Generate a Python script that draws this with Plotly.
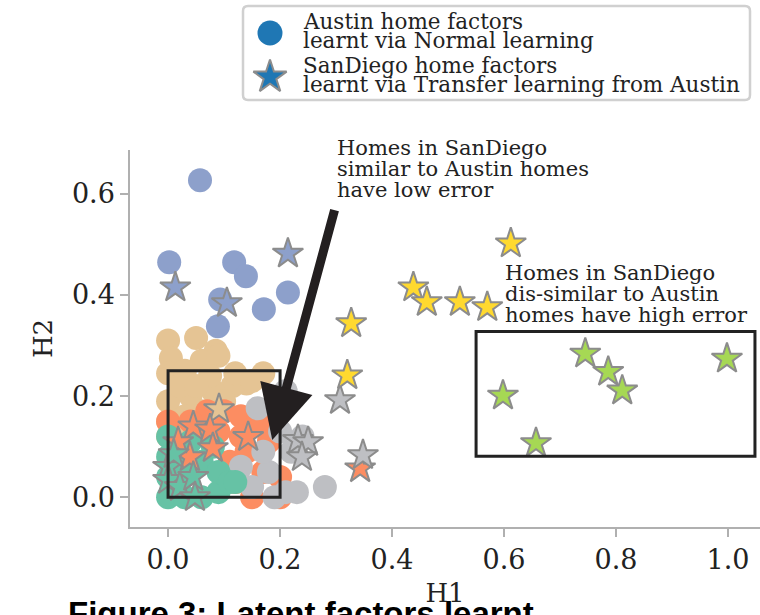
import plotly.graph_objects as go

# ---------------- data ----------------
# Austin home factors (circles), grouped by cluster colour
blue_x = [0.057, 0.002, 0.118, 0.139, 0.093, 0.214, 0.171, 0.089]
blue_y = [0.627, 0.465, 0.465, 0.437, 0.391, 0.405, 0.372, 0.338]

tan_x = [0.00, 0.05, 0.085, 0.005, 0.06, 0.00, 0.03, 0.09, 0.17, 0.14, 0.115, 0.08,
         0.00, 0.04, 0.02, 0.00, 0.03, 0.06, 0.10, 0.075, 0.05, 0.00, 0.02, 0.12, 0.15]
tan_y = [0.31, 0.315, 0.29, 0.275, 0.27, 0.245, 0.25, 0.28, 0.245, 0.225, 0.22, 0.21,
         0.19, 0.20, 0.22, 0.15, 0.16, 0.17, 0.19, 0.24, 0.22, 0.12, 0.13, 0.245, 0.23]

orange_x = [0.00, 0.07, 0.10, 0.13, 0.16, 0.19, 0.09, 0.13, 0.18, 0.12, 0.15, 0.20,
            0.17, 0.20, 0.11, 0.14, 0.06, 0.04]
orange_y = [0.15, 0.17, 0.17, 0.16, 0.15, 0.14, 0.13, 0.12, 0.11, 0.03, 0.00, 0.00,
            0.05, 0.04, 0.07, 0.09, 0.13, 0.15]

grey_x = [0.21, 0.16, 0.20, 0.18, 0.21, 0.15, 0.22, 0.19, 0.13, 0.23, 0.28, 0.17, 0.24]
grey_y = [0.21, 0.176, 0.13, 0.05, 0.01, 0.02, 0.09, 0.00, 0.06, 0.01, 0.02, 0.09, 0.12]

green_x = [0.00, 0.00, 0.00, 0.00, 0.03, 0.06, 0.09, 0.03, 0.06, 0.09, 0.11, 0.04, 0.08, 0.12, 0.02]
green_y = [0.12, 0.08, 0.04, 0.00, 0.00, 0.00, 0.01, 0.05, 0.07, 0.05, 0.03, 0.11, 0.10, 0.03, 0.09]

# SanDiego home factors (stars), grouped by cluster colour
sblue_x = [0.013, 0.105, 0.214]
sblue_y = [0.415, 0.384, 0.482]

stan_x = [0.091]
stan_y = [0.174]

sorange_x = [0.045, 0.075, 0.018, 0.080, 0.039, 0.143, 0.343]
sorange_y = [0.140, 0.134, 0.109, 0.097, 0.079, 0.119, 0.057]

sgreen_x = [0.000, 0.000, 0.021, 0.045, 0.048, 0.010]
sgreen_y = [0.060, 0.034, 0.020, 0.040, 0.000, 0.085]

sgrey_x = [0.232, 0.250, 0.239, 0.307, 0.348]
sgrey_y = [0.113, 0.109, 0.079, 0.192, 0.083]

syellow_x = [0.612, 0.438, 0.462, 0.521, 0.570, 0.327, 0.320]
syellow_y = [0.502, 0.415, 0.386, 0.386, 0.376, 0.344, 0.241]

slime_x = [0.745, 0.786, 0.811, 0.598, 0.657, 0.998]
slime_y = [0.284, 0.248, 0.211, 0.201, 0.107, 0.274]

legend_lines = [["Austin home factors", "learnt via Normal learning"],
                ["SanDiego home factors", "learnt via Transfer learning from Austin"]]
note_low = ["Homes in SanDiego", "similar to Austin homes", "have low error"]
note_high = ["Homes in SanDiego", "dis-similar to Austin", "homes have high error"]
caption = "Figure 3: Latent factors learnt"
x_ticks = [0.0, 0.2, 0.4, 0.6, 0.8, 1.0]
y_ticks = [0.0, 0.2, 0.4, 0.6]

# ---------------- styles / layout constants ----------------
W, H = 760, 615
C_BLUE = "#8da0cb"
C_TAN = "#e5c494"
C_ORANGE = "#fc8d62"
C_GREY = "#bebfc3"
C_GREEN = "#66c2a5"
C_YELLOW = "#ffd92f"
C_LIME = "#a6d854"
C_LEG = "#1f77b4"
EDGE = "#8c8c8c"
TXT = "#222222"
SERIF = "DejaVu Serif"

PL, PR, PT, PB = 130, 760, 150, 527  # plot area in pixels
XR = [-0.068, 1.057]
YR = [-0.059, 0.687]

# legend glyph sub-area in pixels (inside the legend box)
GX0, GX1, GY0, GY1 = 248, 292, 12, 95

fig = go.Figure()

def circles(x, y, c):
    fig.add_trace(go.Scatter(x=x, y=y, mode="markers", showlegend=False, hoverinfo="skip",
                             marker=dict(symbol="circle", size=24, color=c, line=dict(width=0)),
                             cliponaxis=False))

def stars(x, y, c):
    fig.add_trace(go.Scatter(x=x, y=y, mode="markers", showlegend=False, hoverinfo="skip",
                             marker=dict(symbol="star", size=23, color=c, line=dict(width=2, color=EDGE)),
                             cliponaxis=False))

circles(tan_x, tan_y, C_TAN)
circles(orange_x, orange_y, C_ORANGE)
circles(grey_x, grey_y, C_GREY)
circles(green_x, green_y, C_GREEN)
circles(blue_x, blue_y, C_BLUE)

stars(sblue_x, sblue_y, C_BLUE)
stars(stan_x, stan_y, C_TAN)
stars(sorange_x, sorange_y, C_ORANGE)
stars(sgreen_x, sgreen_y, C_GREEN)
stars(sgrey_x, sgrey_y, C_GREY)
stars(syellow_x, syellow_y, C_YELLOW)
stars(slime_x, slime_y, C_LIME)

# boxes around the two groups
fig.add_shape(type="rect", x0=0.0, x1=0.2, y0=0.0, y1=0.25, xref="x", yref="y",
              line=dict(color="#222222", width=3))
fig.add_shape(type="rect", x0=0.55, x1=1.048, y0=0.081, y1=0.328, xref="x", yref="y",
              line=dict(color="#222222", width=3))

# arrow
fig.add_annotation(x=0.186, y=0.113, ax=0.298, ay=0.571, xref="x", yref="y",
                   axref="x", ayref="y", showarrow=True, arrowhead=2, arrowsize=1.2,
                   arrowwidth=9, arrowcolor="#231f20", text="")

# ---------- helpers in pixel coordinates ----------
def px(xp):
    return xp / W

def py(yp):
    return 1 - yp / H

def text_lines(lines, x_left, y_centers, size):
    for t, yc in zip(lines, y_centers):
        fig.add_annotation(x=px(x_left), y=py(yc), xref="paper", yref="paper", text=t,
                           showarrow=False, xanchor="left", yanchor="middle",
                           font=dict(family=SERIF, size=size, color=TXT))

text_lines(note_low, 335, [148, 169, 190], 21)
text_lines(note_high, 503, [273, 294, 315], 21)

# ---------- manual legend ----------
LX0, LX1, LY0, LY1, R = 243, 750, 6, 100, 5
path = (f"M {px(LX0 + R)},{py(LY0)} L {px(LX1 - R)},{py(LY0)} "
        f"Q {px(LX1)},{py(LY0)} {px(LX1)},{py(LY0 + R)} L {px(LX1)},{py(LY1 - R)} "
        f"Q {px(LX1)},{py(LY1)} {px(LX1 - R)},{py(LY1)} L {px(LX0 + R)},{py(LY1)} "
        f"Q {px(LX0)},{py(LY1)} {px(LX0)},{py(LY1 - R)} L {px(LX0)},{py(LY0 + R)} "
        f"Q {px(LX0)},{py(LY0)} {px(LX0 + R)},{py(LY0)} Z")
fig.add_shape(type="path", path=path, xref="paper", yref="paper",
              line=dict(color="#d0d0d0", width=2.5), fillcolor="white", layer="below")

# legend glyphs on a small hidden subplot whose units are pixels
fig.add_trace(go.Scatter(x=[270], y=[33], xaxis="x2", yaxis="y2", mode="markers",
                         showlegend=False, hoverinfo="skip", cliponaxis=False,
                         marker=dict(symbol="circle", size=25, color=C_LEG)))
fig.add_trace(go.Scatter(x=[270], y=[77], xaxis="x2", yaxis="y2", mode="markers",
                         showlegend=False, hoverinfo="skip", cliponaxis=False,
                         marker=dict(symbol="star", size=25, color=C_LEG,
                                     line=dict(width=2, color=EDGE))))
text_lines(legend_lines[0], 301, [22, 41], 21.5)
text_lines(legend_lines[1], 301, [66, 85], 21.5)

# cut-off caption at the bottom
fig.add_annotation(x=px(66), y=py(593), xref="paper", yref="paper",
                   text=f"<b>{caption}</b>", showarrow=False,
                   xanchor="left", yanchor="top",
                   font=dict(family="Liberation Sans", size=33, color="#000000"))

axis_common = dict(showline=True, linecolor="#b0b0b0", linewidth=1.5, ticks="outside",
                   ticklen=8, tickwidth=1.5, tickcolor="#b0b0b0", showgrid=False,
                   zeroline=False, tickfont=dict(family=SERIF, size=27, color=TXT),
                   tickformat=".1f", automargin=False)

hidden = dict(visible=False, showgrid=False, zeroline=False, automargin=False, fixedrange=True)

fig.update_layout(
    width=W, height=H,
    margin=dict(l=0, r=0, t=0, b=0),
    paper_bgcolor="white", plot_bgcolor="rgba(0,0,0,0)",
    showlegend=False,
    xaxis=dict(domain=[PL / W, PR / W], range=XR, tickvals=x_ticks,
               title=dict(text="H1", font=dict(family=SERIF, size=26, color=TXT), standoff=10),
               **axis_common),
    yaxis=dict(domain=[1 - PB / H, 1 - PT / H], range=YR, tickvals=y_ticks,
               title=dict(text="H2", font=dict(family=SERIF, size=26, color=TXT), standoff=12),
               **axis_common),
    xaxis2=dict(domain=[GX0 / W, GX1 / W], range=[GX0, GX1], anchor="y2", **hidden),
    yaxis2=dict(domain=[1 - GY1 / H, 1 - GY0 / H], range=[GY1, GY0], anchor="x2", **hidden),
)

fig.write_html("out.html", config={"displayModeBar": False},
               post_script="document.body.style.margin='0px';document.body.style.overflow='hidden';")
